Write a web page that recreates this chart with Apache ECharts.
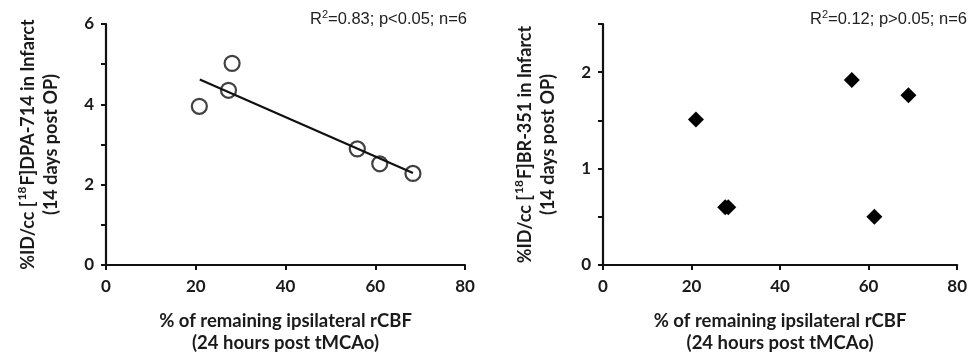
<!DOCTYPE html>
<html>
<head>
<meta charset="utf-8">
<script src="https://cdn.jsdelivr.net/npm/echarts@6/dist/echarts.min.js"></script>
<style>
html,body{margin:0;padding:0;background:#fff;}
#chart{width:970px;height:359px;}
</style>
</head>
<body>
<div id="chart"></div>
<script>
// ---- data ----
const dpaX = [20.8, 27.3, 28.1, 56.0, 61.0, 68.4];
const dpaY = [3.95, 4.35, 5.02, 2.89, 2.52, 2.28];
const trendX = [20.9, 68.4];
const trendY = [4.62, 2.29];
const brX = [21.0, 27.6, 28.3, 56.2, 61.3, 69.0];
const brY = [1.51, 0.60, 0.60, 1.92, 0.50, 1.76];
const xTicks = [0, 20, 40, 60, 80];
const leftYLabels = [0, 2, 4, 6];
const rightYLabels = [0, 1, 2];
const leftStats = ['R', '2', '=0.83; p<0.05; n=6'];
const rightStats = ['R', '2', '=0.12; p>0.05; n=6'];

const pair = (xs, ys) => xs.map((x, i) => [x, ys[i]]);
const axisFont = 'Lato';
const ink = '#111';

function xAxisCfg(gi) {
  return {
    type: 'value', gridIndex: gi, min: xTicks[0], max: xTicks[xTicks.length - 1], interval: 20,
    axisLine: { show: true, lineStyle: { color: ink, width: 2.2 } },
    axisTick: { show: true, length: 5, lineStyle: { color: ink, width: 2 } },
    axisLabel: { margin: 13, fontFamily: axisFont, fontWeight: 'bold', fontSize: 17, color: '#1a1a1a',
      formatter: v => xTicks.includes(v) ? String(v) : '' },
    splitLine: { show: false },
    name: '% of remaining ipsilateral rCBF\n(24 hours post tMCAo)',
    nameLocation: 'middle', nameGap: 45,
    nameTextStyle: { fontFamily: axisFont, fontWeight: 'bold', fontSize: 18.5, color: '#1a1a1a', lineHeight: 22 }
  };
}
function yAxisCfg(gi, max, interval, labels, tracer) {
  return {
    type: 'value', gridIndex: gi, min: 0, max: max, interval: interval,
    axisLine: { show: true, lineStyle: { color: ink, width: 2.2 } },
    axisTick: { show: true, length: 5, lineStyle: { color: ink, width: 2 } },
    axisLabel: { margin: 12, fontFamily: axisFont, fontWeight: 'bold', fontSize: 17, color: '#1a1a1a',
      formatter: v => labels.includes(v) ? String(v) : '' },
    splitLine: { show: false },
    name: '{m|%ID/cc [}{s|18}{m|F]' + tracer + ' in Infarct}\n{m|(14 days post OP)}',
    nameLocation: 'middle', nameGap: 43, nameRotate: 90,
    nameTextStyle: {
      fontFamily: axisFont, fontWeight: 'bold', fontSize: 18,
      rich: {
        m: { fontFamily: axisFont, fontWeight: 700, fontSize: 18, color: '#1a1a1a', lineHeight: 23 },
        s: { fontFamily: axisFont, fontWeight: 700, fontSize: 12, color: '#1a1a1a', lineHeight: 12, padding: [0, 1, 12, 1] }
      }
    }
  };
}
function statsTitle(parts, right) {
  return {
    text: '{a|' + parts[0] + '}{s|' + parts[1] + '}{a|' + parts[2] + '}',
    right: right, top: 10, padding: 0,
    textStyle: {
      fontWeight: 'normal',
      rich: {
        a: { fontFamily: 'Liberation Sans', fontWeight: 'normal', fontSize: 16.5, color: '#222', lineHeight: 19 },
        s: { fontFamily: 'Liberation Sans', fontWeight: 'normal', fontSize: 11, color: '#222', lineHeight: 11, padding: [0, 0, 9, 0] }
      }
    }
  };
}

const chart = echarts.init(document.getElementById('chart'), null, { renderer: 'canvas' });
chart.setOption({
  animation: false,
  backgroundColor: '#fff',
  title: [statsTitle(leftStats, 503), statsTitle(rightStats, 3)],
  grid: [
    { left: 106, top: 24, width: 359, height: 242 },
    { left: 603, top: 24, width: 358, height: 242 }
  ],
  xAxis: [xAxisCfg(0), xAxisCfg(1)],
  yAxis: [yAxisCfg(0, 6, 1, leftYLabels, 'DPA-714'), yAxisCfg(1, 2.5, 0.5, rightYLabels, 'BR-351')],
  series: [
    { type: 'line', xAxisIndex: 0, yAxisIndex: 0, data: pair(trendX, trendY), symbol: 'none',
      lineStyle: { color: ink, width: 2.2 }, z: 2 },
    { type: 'scatter', xAxisIndex: 0, yAxisIndex: 0, data: pair(dpaX, dpaY), symbol: 'circle', symbolSize: 15,
      itemStyle: { color: 'rgba(255,255,255,0)', borderColor: ink, borderWidth: 2.2 }, z: 3 },
    { type: 'scatter', xAxisIndex: 1, yAxisIndex: 1, data: pair(brX, brY), symbol: 'diamond', symbolSize: [16, 16],
      itemStyle: { color: '#000', opacity: 1 }, z: 3 }
  ]
});
</script>
</body>
</html>
